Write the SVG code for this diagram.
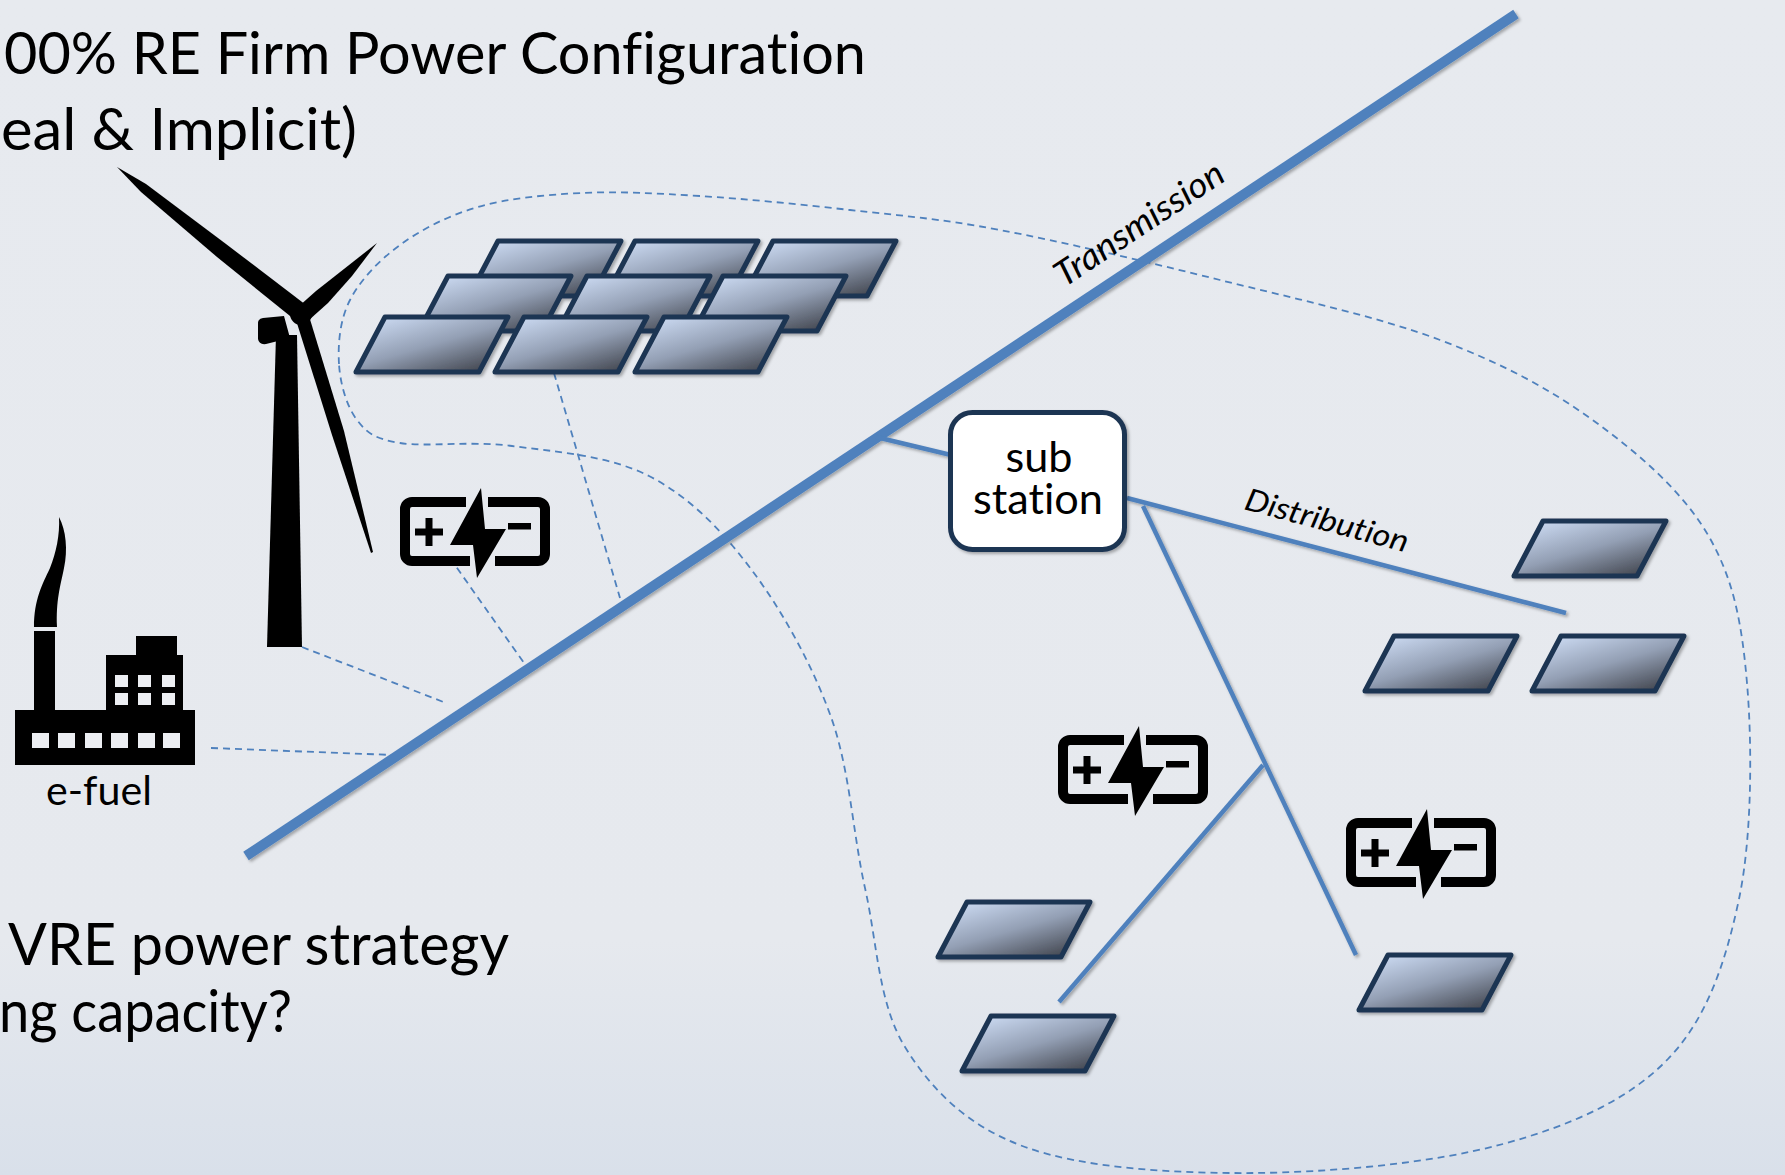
<svg xmlns="http://www.w3.org/2000/svg" xmlns:xlink="http://www.w3.org/1999/xlink" width="1785" height="1175" viewBox="0 0 1785 1175">
  <defs>
    <linearGradient id="bg" x1="0" y1="0" x2="0" y2="1">
      <stop offset="0" stop-color="#e7eaef"/>
      <stop offset="0.8" stop-color="#e6e9ee"/>
      <stop offset="1" stop-color="#d9e0ea"/>
    </linearGradient>
    <linearGradient id="pvFill" x1="0.1" y1="0" x2="0.9" y2="1">
      <stop offset="0" stop-color="#cfdef6"/>
      <stop offset="0.5" stop-color="#939fb4"/>
      <stop offset="1" stop-color="#3b3e46"/>
    </linearGradient>
    <filter id="shadow" filterUnits="userSpaceOnUse" x="0" y="0" width="1785" height="1175">
      <feDropShadow dx="2" dy="2" stdDeviation="1.5" flood-color="#000" flood-opacity="0.3"/>
    </filter>
    <!-- one PV panel, top-left corner of the stroke centre line at 0,0 -->
    <path id="panel" class="pv" d="M0,0 H123 L94,55 H-29 Z"/>
    <!-- battery icon, body outer top-left at 0,0 -->
    <g id="battery-icon">
      <path d="M66,5 H12 A7,7 0 0 0 5,12 V57 A7,7 0 0 0 12,64 H70" fill="none" stroke="#000" stroke-width="10"/>
      <path d="M88,5 H138 A7,7 0 0 1 145,12 V57 A7,7 0 0 1 138,64 H95" fill="none" stroke="#000" stroke-width="10"/>
      <path d="M81,-9 L50,48 H73 L77,81 L106,32 H85 Z" fill="#000"/>
      <rect x="15" y="31.5" width="28" height="7" fill="#000"/>
      <rect x="25.5" y="21" width="7" height="28" fill="#000"/>
      <rect x="108" y="26" width="23" height="6.5" fill="#000"/>
    </g>
  </defs>
  <style>
    .pv { fill: url(#pvFill); stroke: #1f3552; stroke-width: 5; stroke-linejoin: round; }
    .wire { stroke: #4f81bd; fill: none; stroke-linecap: butt; }
    .dash { fill: none; stroke: #4f81bd; stroke-width: 1.8; stroke-dasharray: 7 5; }
    .txt { font-family: Lato, "Open Sans", "Liberation Sans", sans-serif; fill: #000; font-variant-ligatures: none; }
    .lbl { font-family: Lato, "Open Sans", "Liberation Sans", sans-serif; font-style: italic; fill: #000; font-variant-ligatures: none; }
  </style>

  <rect x="0" y="0" width="1785" height="1175" fill="url(#bg)"/>

  <!-- headline text -->
  <g id="headline" class="txt" font-size="58">
    <text x="4" y="74" textLength="862" lengthAdjust="spacingAndGlyphs">00% RE Firm Power Configuration</text>
    <text x="1" y="150" textLength="356" lengthAdjust="spacingAndGlyphs">eal &amp; Implicit)</text>
    <text x="8" y="965" textLength="501" lengthAdjust="spacingAndGlyphs">VRE power strategy</text>
    <text x="-1" y="1032" textLength="293" lengthAdjust="spacingAndGlyphs">ng capacity?</text>
  </g>

  <!-- connectors -->
  <g id="connectors">
    <!-- area boundary -->
    <path class="dash" d="M339,364 C337.8,344 339.8,319.8 350,300 C360.2,280.2 378.7,260.5 400,245 C421.3,229.5 447.8,215.7 478,207 C508.2,198.3 544,194.8 581,193 C618,191.2 655.2,193.2 700,196 C744.8,198.8 800,204.3 850,210 C900,215.7 938.3,218.3 1000,230 C1061.7,241.7 1146.7,261.7 1220,280 C1293.3,298.3 1377.7,316.5 1440,340 C1502.3,363.5 1549.3,388.5 1594,421 C1638.7,453.5 1682.5,491.3 1708,535 C1733.5,578.7 1741.8,622.3 1747,683 C1752.2,743.7 1752.2,836.3 1739,899 C1725.8,961.7 1707.3,1018.2 1668,1059 C1628.7,1099.8 1572.3,1125 1503,1144 C1433.7,1163 1331.7,1172.5 1252,1173 C1172.3,1173.5 1082.8,1168 1025,1147 C967.2,1126 931.7,1090.2 905,1047 C878.3,1003.8 877.3,943 865,888 C852.7,833 850,770.2 831,717 C812,663.8 781.3,609.2 751,569 C720.7,528.8 688.8,496.5 649,476 C609.2,455.5 553.5,451.5 512,446 C470.5,440.5 425.8,447.3 400,443 C374.2,438.7 367.2,433.2 357,420 C346.8,406.8 340.2,384 339,364 Z"/>
    <!-- dashed feeder links -->
    <line class="dash" x1="302" y1="647" x2="446" y2="703"/>
    <line class="dash" x1="211" y1="748" x2="393" y2="755"/>
    <line class="dash" x1="450" y1="558" x2="524" y2="663"/>
    <line class="dash" x1="554" y1="373" x2="620" y2="598"/>
    <!-- grid lines -->
    <g filter="url(#shadow)">
      <line id="transmission" class="wire" x1="246" y1="856" x2="1516" y2="14" stroke-width="10"/>
      <line class="wire" x1="876" y1="437" x2="951" y2="455" stroke-width="4.5"/>
      <line id="distribution" class="wire" x1="1127" y1="498" x2="1566" y2="613" stroke-width="4.5"/>
      <line class="wire" x1="1143" y1="506" x2="1356" y2="955" stroke-width="4.5"/>
      <line class="wire" x1="1263" y1="765" x2="1059" y2="1002" stroke-width="4.5"/>
    </g>
    <text class="lbl" font-size="35" transform="translate(1064,288) rotate(-33.55)" textLength="196" lengthAdjust="spacingAndGlyphs">Transmission</text>
    <text class="lbl" font-size="31" transform="translate(1243,509) rotate(15)" textLength="168" lengthAdjust="spacingAndGlyphs">Distribution</text>
  </g>

  <!-- wind turbine -->
  <g id="wind-turbine" fill="#000">
    <path d="M276,335 L297,335 L302,647 L267,647 Z"/>
    <path d="M258,325 Q257,319 263,318 L284,316 L290,338 L266,344 Q259,345 258,339 Z"/>
    <path d="M306,305 L226,244 L146,184 L117,167 L141,192 L217,257 L295,320 Z"/>
    <path d="M298,307 L316,291 L377,243 L352,276 L328,303 L309,320 Z"/>
    <path d="M309,316 L344,431 L373,552 L371,553 L332,435 L296,320 Z"/>
    <circle cx="301" cy="314" r="11"/>
  </g>

  <!-- e-fuel plant -->
  <g id="e-fuel-plant">
    <path d="M34,627 C34,600 42,585 50,568 C56,553 60,535 59,517 C66,530 68,550 64,568 C60,588 56,600 57,627 Z" fill="#000"/>
    <rect x="34" y="631" width="21" height="82" fill="#000"/>
    <rect x="15" y="710" width="180" height="55" fill="#000"/>
    <rect x="106" y="655" width="77" height="56" fill="#000"/>
    <rect x="136" y="636" width="41" height="20" fill="#000"/>
    <g fill="#eceef2">
      <rect x="32" y="733" width="17" height="15"/>
      <rect x="58" y="733" width="17" height="15"/>
      <rect x="85" y="733" width="17" height="15"/>
      <rect x="111" y="733" width="17" height="15"/>
      <rect x="138" y="733" width="17" height="15"/>
      <rect x="163" y="733" width="17" height="15"/>
      <rect x="115" y="675" width="13" height="12"/>
      <rect x="138" y="675" width="13" height="12"/>
      <rect x="162" y="675" width="13" height="12"/>
      <rect x="115" y="693" width="13" height="12"/>
      <rect x="138" y="693" width="13" height="12"/>
      <rect x="162" y="693" width="13" height="12"/>
    </g>
    <text class="txt" x="46" y="805" font-size="41" textLength="106" lengthAdjust="spacingAndGlyphs">e-fuel</text>
  </g>

  <!-- utility-scale PV array -->
  <g id="pv-array" filter="url(#shadow)">
    <use xlink:href="#panel" href="#panel" x="498" y="241"/>
    <use xlink:href="#panel" href="#panel" x="635" y="241"/>
    <use xlink:href="#panel" href="#panel" x="773" y="241"/>
    <use xlink:href="#panel" href="#panel" x="448" y="276"/>
    <use xlink:href="#panel" href="#panel" x="587" y="276"/>
    <use xlink:href="#panel" href="#panel" x="723" y="276"/>
    <use xlink:href="#panel" href="#panel" x="385" y="317"/>
    <use xlink:href="#panel" href="#panel" x="524" y="317"/>
    <use xlink:href="#panel" href="#panel" x="664" y="317"/>
  </g>

  <!-- batteries -->
  <g id="battery-1"><use xlink:href="#battery-icon" href="#battery-icon" x="400" y="497"/></g>
  <g id="battery-2"><use xlink:href="#battery-icon" href="#battery-icon" x="1058" y="735"/></g>
  <g id="battery-3"><use xlink:href="#battery-icon" href="#battery-icon" x="1346" y="818"/></g>

  <!-- substation -->
  <g id="substation">
    <rect x="950.5" y="412.5" width="174" height="137" rx="22" fill="#fff" stroke="#1f3552" stroke-width="5" filter="url(#shadow)"/>
    <text class="txt" x="1039" y="472" font-size="42" text-anchor="middle" textLength="67" lengthAdjust="spacingAndGlyphs">sub</text>
    <text class="txt" x="1038" y="514" font-size="42" text-anchor="middle" textLength="130" lengthAdjust="spacingAndGlyphs">station</text>
  </g>

  <!-- distributed PV -->
  <g id="pv-dist-1" filter="url(#shadow)"><use xlink:href="#panel" href="#panel" x="1543" y="521"/></g>
  <g id="pv-dist-2" filter="url(#shadow)"><use xlink:href="#panel" href="#panel" x="1394" y="636"/></g>
  <g id="pv-dist-3" filter="url(#shadow)"><use xlink:href="#panel" href="#panel" x="1561" y="636"/></g>
  <g id="pv-dist-4" filter="url(#shadow)"><use xlink:href="#panel" href="#panel" x="1388" y="955"/></g>
  <g id="pv-dist-5" filter="url(#shadow)"><use xlink:href="#panel" href="#panel" x="967" y="902"/></g>
  <g id="pv-dist-6" filter="url(#shadow)"><use xlink:href="#panel" href="#panel" x="991" y="1016"/></g>
</svg>
